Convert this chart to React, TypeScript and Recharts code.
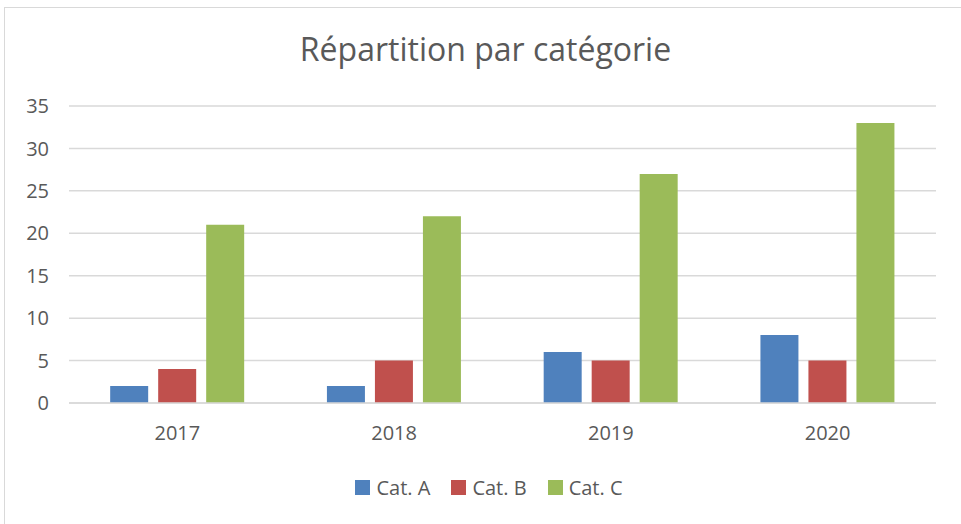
import { BarChart, Bar, XAxis, YAxis, CartesianGrid, Legend } from "recharts"

const years = ["2017", "2018", "2019", "2020"]
const catA = [2, 2, 6, 8]
const catB = [4, 5, 5, 5]
const catC = [21, 22, 27, 33]
const yTicks = [0, 5, 10, 15, 20, 25, 30, 35]

const series = [
    { key: "a", name: "Cat. A", color: "#4f81bd" },
    { key: "b", name: "Cat. B", color: "#c0504d" },
    { key: "c", name: "Cat. C", color: "#9bbb59" }
]

const data = years.map((year, i) => ({
    year,
    a: catA[i],
    b: catB[i],
    c: catC[i]
}))

const font = "'Open Sans', sans-serif"
const textColor = "#595959"

function LegendContent() {
    return (
        <div style={{ display: "flex", justifyContent: "center", gap: 21, fontFamily: font, fontSize: 20, lineHeight: "27px", color: textColor }}>
            {series.map((s) => (
                <div key={s.key} style={{ display: "flex", alignItems: "center", gap: 6 }}>
                    <span style={{ width: 15, height: 15, background: s.color, display: "inline-block" }} />
                    <span>{s.name}</span>
                </div>
            ))}
        </div>
    )
}

export default function App() {
    return (
        <div style={{ position: "absolute", left: 4, top: 7, width: 980, height: 540, border: "1px solid #d9d9d9", background: "#fff" }}>
            <div style={{ position: "absolute", left: 0, width: 961, top: 19, textAlign: "center", fontFamily: font, fontSize: 32, color: textColor }}>
                Répartition par catégorie
            </div>
            <BarChart
                width={956}
                height={512}
                data={data}
                margin={{ top: 98, right: 25, bottom: 40, left: 0 }}
                barGap={10}
                barCategoryGap="19%"
            >
                <CartesianGrid vertical={false} stroke="#d9d9d9" strokeWidth={1.5} />
                <XAxis
                    dataKey="year"
                    axisLine={{ stroke: "#d9d9d9", strokeWidth: 1.5 }}
                    tickLine={false}
                    tickSize={0}
                    tickMargin={23}
                    height={37}
                    tick={{ fill: textColor, fontSize: 20, fontFamily: font }}
                />
                <YAxis
                    width={64}
                    domain={[0, 35]}
                    ticks={yTicks}
                    axisLine={false}
                    tickLine={false}
                    tickSize={0}
                    tickMargin={20}
                    tick={{ fill: textColor, fontSize: 20, fontFamily: font }}
                />
                <Legend
                    verticalAlign="bottom"
                    height={40}
                    wrapperStyle={{ top: 466, left: 6, width: 956 }}
                    content={<LegendContent />}
                />
                {series.map((s) => (
                    <Bar key={s.key} dataKey={s.key} name={s.name} fill={s.color} isAnimationActive={false} />
                ))}
            </BarChart>
        </div>
    )
}
